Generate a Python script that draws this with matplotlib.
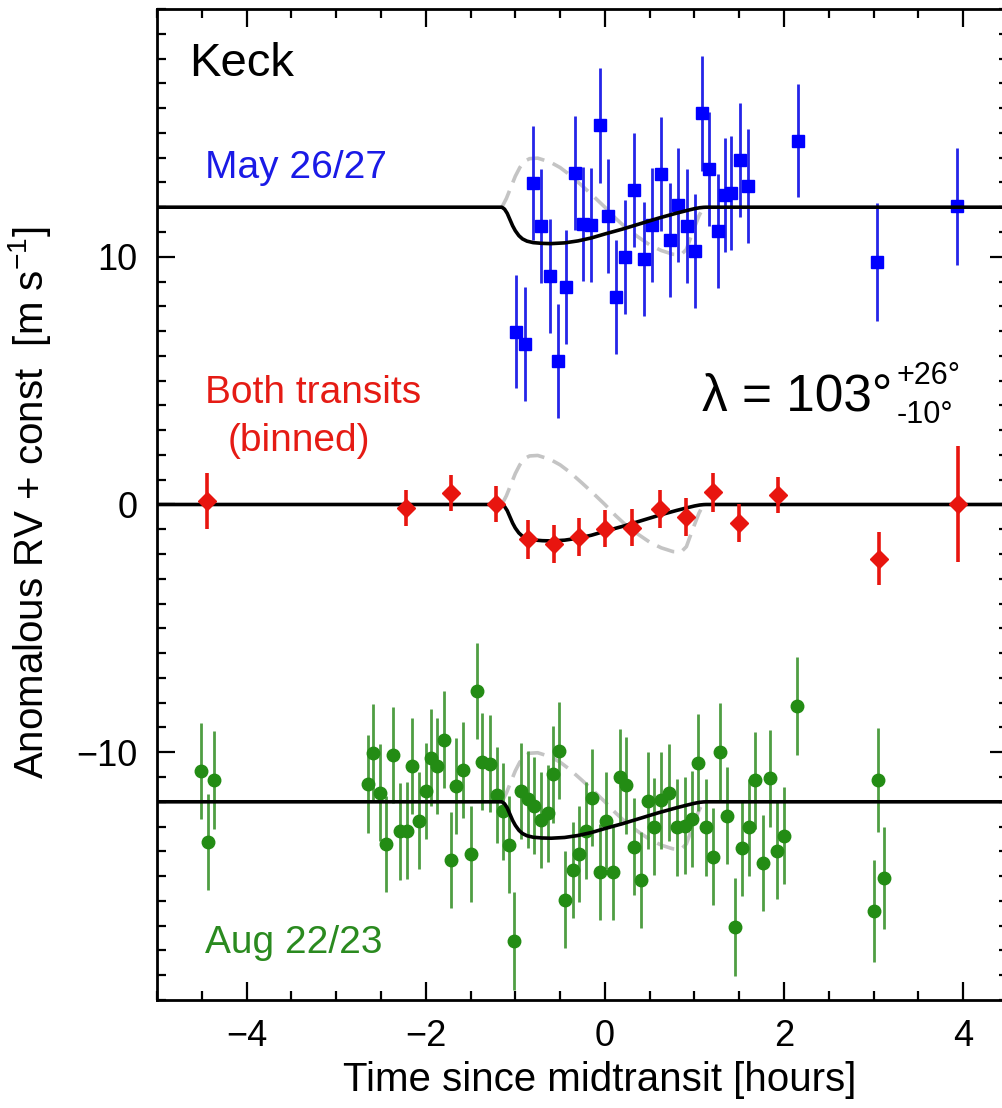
import matplotlib
matplotlib.use("Agg")
import matplotlib.pyplot as plt
from matplotlib.ticker import MultipleLocator, FixedLocator

plt.rcParams['font.family'] = ['Liberation Sans', 'DejaVu Sans']
plt.rcParams['mathtext.fontset'] = 'custom'
plt.rcParams['mathtext.rm'] = 'Liberation Sans'
plt.rcParams['mathtext.it'] = 'Liberation Sans:italic'

# May 26/27 (shown with +12 offset)
may_t = [-0.99, -0.89, -0.80, -0.71, -0.61, -0.52, -0.43, -0.33, -0.24, -0.15,
         -0.06, 0.03, 0.12, 0.23, 0.33, 0.44, 0.53, 0.63, 0.73, 0.82,
         0.92, 1.01, 1.08, 1.16, 1.26, 1.34, 1.41, 1.51, 1.60, 2.16,
         3.04, 3.93]
may_rv = [6.98, 6.47, 12.96, 11.24, 9.23, 5.80, 8.79, 13.38, 11.33, 11.27,
          15.31, 11.64, 8.36, 9.99, 12.71, 9.90, 11.27, 13.34, 10.69, 12.10,
          11.24, 10.22, 15.79, 13.54, 11.02, 12.50, 12.56, 13.90, 12.84, 14.68,
          9.79, 12.03]
may_err = [2.28, 2.30, 2.30, 2.30, 2.30, 2.31, 2.30, 2.30, 2.30, 2.30,
           2.32, 2.30, 2.30, 2.30, 2.30, 2.30, 2.30, 2.30, 2.30, 2.30,
           2.30, 2.30, 2.32, 2.30, 2.30, 2.30, 2.30, 2.30, 2.30, 2.28,
           2.37, 2.35]

# both transits, binned
both_t = [-4.44, -2.22, -1.72, -1.22, -0.86, -0.57, -0.29, 0.00, 0.30, 0.61,
          0.91, 1.21, 1.50, 1.93, 3.06, 3.94]
both_rv = [0.15, -0.15, 0.46, 0.02, -1.41, -1.59, -1.32, -0.98, -0.94, -0.18,
           -0.51, 0.49, -0.74, 0.38, -2.19, 0.02]
both_err = [1.12, 0.72, 0.72, 0.74, 0.77, 0.78, 0.76, 0.75, 0.75, 0.78,
            0.78, 0.80, 0.77, 0.74, 1.07, 2.34]

# Aug 22/23 (shown with -12 offset)
aug_t = [-4.51, -4.43, -4.36, -2.65, -2.59, -2.51, -2.44, -2.36, -2.29, -2.21,
         -2.15, -2.07, -2.00, -1.94, -1.87, -1.80, -1.72, -1.66, -1.58, -1.50,
         -1.43, -1.37, -1.28, -1.21, -1.14, -1.07, -1.01, -0.94, -0.86, -0.79,
         -0.71, -0.64, -0.58, -0.51, -0.44, -0.36, -0.29, -0.21, -0.14, -0.06,
         0.01, 0.09, 0.17, 0.24, 0.32, 0.40, 0.48, 0.55, 0.63, 0.72,
         0.80, 0.89, 0.97, 1.04, 1.13, 1.21, 1.28, 1.36, 1.45, 1.53,
         1.61, 1.68, 1.77, 1.84, 1.92, 2.00, 2.15, 3.00, 3.05, 3.12]
aug_rv = [-10.76, -13.61, -11.13, -11.29, -10.02, -11.63, -13.70, -10.11, -13.19, -13.16,
          -10.55, -12.76, -11.56, -10.22, -10.55, -9.49, -14.35, -11.36, -10.72, -14.10,
          -7.52, -10.38, -10.46, -11.72, -12.39, -13.73, -17.62, -11.56, -11.90, -12.16,
          -12.74, -12.47, -10.89, -9.93, -15.95, -14.75, -14.10, -13.16, -11.83, -14.84,
          -12.76, -14.84, -11.00, -11.33, -13.81, -15.15, -11.96, -13.00, -11.94, -11.63,
          -13.03, -12.96, -12.70, -10.42, -13.03, -14.21, -9.98, -12.56, -17.05, -13.86,
          -13.03, -11.13, -14.47, -11.05, -13.97, -13.37, -8.15, -16.41, -11.12, -15.08]
aug_err = [1.94, 1.94, 1.97, 1.97, 1.97, 1.95, 1.95, 1.95, 1.95, 1.95,
           1.95, 1.95, 1.95, 1.95, 1.95, 1.95, 1.95, 1.95, 1.95, 1.95,
           1.94, 1.95, 1.95, 1.95, 1.95, 1.95, 1.98, 1.95, 1.95, 1.95,
           1.95, 1.95, 1.95, 1.95, 1.95, 1.95, 1.95, 1.95, 1.95, 1.95,
           1.95, 1.95, 1.95, 1.95, 1.95, 1.95, 1.95, 1.95, 1.95, 1.95,
           1.95, 1.95, 1.95, 1.95, 1.95, 1.95, 1.95, 1.95, 1.98, 1.95,
           1.95, 1.95, 1.95, 1.95, 1.95, 1.95, 1.98, 2.05, 2.10, 2.07]

# best-fit model (lambda = 103 deg) and aligned model
fit_t = [-5.0, -1.15, -1.12, -1.09, -1.06, -1.03, -1.00, -0.96, -0.92, -0.87,
         -0.80, -0.70, -0.60, -0.45, -0.30, -0.15, 0.00, 0.20, 0.40, 0.60,
         0.80, 0.92, 1.00, 1.06, 1.10, 1.13, 4.5]
fit_rv = [0.0, 0.0, -0.08, -0.25, -0.50, -0.75, -0.95, -1.15, -1.28, -1.37,
          -1.43, -1.46, -1.47, -1.44, -1.36, -1.24, -1.08, -0.88, -0.66, -0.44,
          -0.24, -0.13, -0.06, -0.02, -0.005, 0.0, 0.0]
aligned_t = [-1.15, -1.10, -1.05, -1.00, -0.95, -0.90, -0.84, -0.75, -0.61, -0.50,
             -0.39, -0.25, -0.13, 0.00, 0.12, 0.24, 0.37, 0.50, 0.63, 0.76,
             0.85, 0.91, 0.98, 1.05, 1.10]
aligned_rv = [0.0, 0.35, 0.80, 1.25, 1.60, 1.85, 1.96, 1.98, 1.82, 1.60,
              1.30, 0.85, 0.45, 0.0, -0.45, -0.85, -1.20, -1.52, -1.75, -1.90,
              -1.92, -1.70, -1.00, -0.35, 0.0]
offsets = [12, 0, -12]
y_ticks = [-10, 0, 10]

fig = plt.figure(figsize=(10.03, 11.08), dpi=100)
ax = fig.add_axes([157 / 1003, 1 - 1000 / 1108, 851 / 1003, 991 / 1108])

for off in offsets:
    ax.plot(aligned_t, [v + off for v in aligned_rv], color='#c4c4c4', lw=2.6,
            dashes=(5, 2.5), zorder=1)
    ax.plot(fit_t, [v + off for v in fit_rv], color='black', lw=2.6, zorder=3)

ax.errorbar(may_t, may_rv, yerr=may_err, fmt='s', ms=9, color='#0000ff',
            ecolor='#2525e8', elinewidth=2.0, capsize=0, zorder=2)
ax.errorbar(aug_t, aug_rv, yerr=aug_err, fmt='o', ms=9, color='#238c14',
            ecolor='#4f9e43', elinewidth=2.0, capsize=0, zorder=2)
ax.errorbar(both_t, both_rv, yerr=both_err, fmt='D', ms=9, color='#e8150f',
            ecolor='#e8150f', elinewidth=2.6, capsize=0, zorder=4)

ax.set_xlim(-5, 4.5)
ax.set_ylim(-20, 20)
ax.xaxis.set_major_locator(MultipleLocator(2))
ax.xaxis.set_minor_locator(MultipleLocator(0.5))
ax.yaxis.set_major_locator(FixedLocator(y_ticks))
ax.yaxis.set_minor_locator(MultipleLocator(1))
ax.tick_params(which='both', direction='in', top=True, right=True, width=1.6)
ax.tick_params(which='major', length=13, labelsize=26, pad=14)
ax.tick_params(which='minor', length=6.5)
for sp in ax.spines.values():
    sp.set_linewidth(2.0)

fig.text(30 / 1003, 1 - 503 / 1108, 'Anomalous RV + const  [m s$^{-1}$]',
         rotation=90, ha='center', va='center', fontsize=29)
fig.text(600 / 1003, 1 - 1080 / 1108, 'Time since midtransit [hours]',
         ha='center', va='center', fontsize=29)

ax.text(0.038, 0.944, 'Keck', transform=ax.transAxes, fontsize=34,
        ha='left', va='center', color='black')
ax.text(0.056, 0.840, 'May 26/27', transform=ax.transAxes, fontsize=28,
        ha='left', va='center', color='#1a1ae6')
ax.text(0.056, 0.613, 'Both transits', transform=ax.transAxes, fontsize=28,
        ha='left', va='center', color='#e51b14')
ax.text(0.083, 0.564, '(binned)', transform=ax.transAxes, fontsize=28,
        ha='left', va='center', color='#e51b14')
ax.text(0.056, 0.058, 'Aug 22/23', transform=ax.transAxes, fontsize=28,
        ha='left', va='center', color='#2a8a1f')

ax.text(0.641, 0.595, 'λ = 103°', transform=ax.transAxes, fontsize=37,
        ha='left', va='baseline', color='black')
ax.text(0.869, 0.630, '+26°', transform=ax.transAxes, fontsize=22,
        ha='left', va='center', color='black')
ax.text(0.869, 0.590, '-10°', transform=ax.transAxes, fontsize=22,
        ha='left', va='center', color='black')

fig.savefig('out.png', dpi=100)
